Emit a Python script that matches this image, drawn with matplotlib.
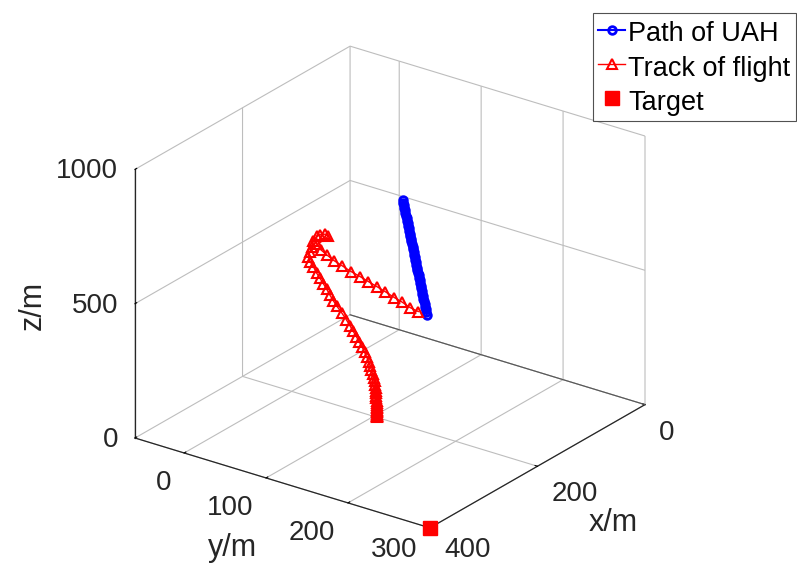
import numpy as np
import matplotlib
matplotlib.use('Agg')
import matplotlib.pyplot as plt
from mpl_toolkits.mplot3d import proj3d

plt.rcParams['font.family'] = ['Liberation Sans', 'DejaVu Sans']
plt.rcParams['grid.color'] = '#bdbdbd'
plt.rcParams['grid.linewidth'] = 0.8

# path of the UAH (m)
uah_x = [200, 200, 200, 200, 200, 200, 200, 200, 200, 200,
         200, 200, 200, 200, 200, 200, 200, 200, 200, 200,
         200, 200, 200, 200, 200, 200, 200, 200, 200, 200,
         200, 200, 200, 200, 200, 200, 200, 200, 200, 200,
         200, 200, 200, 200, 200]
uah_y = [135.5, 136.2, 136.8, 137.5, 138.2, 138.8, 139.5, 140.2, 140.8, 141.5,
         142.2, 142.8, 143.5, 144.2, 144.8, 145.5, 146.2, 146.8, 147.5, 148.2,
         148.8, 149.5, 150.2, 150.8, 151.5, 152.2, 152.8, 153.5, 154.2, 154.8,
         155.5, 156.2, 156.8, 157.5, 158.2, 158.8, 159.5, 160.2, 160.8, 161.5,
         162.2, 162.8, 163.5, 164.2, 164.8]
uah_z = [838, 829, 820, 811, 802, 793, 784, 775, 766, 757,
         748, 739, 730, 721, 712, 703, 694, 685, 676, 667,
         657, 648, 639, 630, 621, 612, 603, 594, 585, 576,
         567, 558, 549, 540, 531, 521, 512, 503, 494, 485,
         476, 467, 458, 448, 439]

# track of flight (m)
track_x = [200, 200, 200, 200, 200, 200, 200, 200, 200, 200,
           200, 200, 200, 200, 200, 200, 200, 200, 200, 200,
           200, 200, 200, 200, 200, 200, 200, 200, 200, 200,
           200, 200, 200, 200, 200, 200, 200, 200, 200, 200,
           200, 200, 200, 200, 200, 200, 200, 200, 200, 200,
           200, 200, 200, 200, 200, 200, 200, 200, 200, 200,
           200, 200, 200, 200, 200]
track_y = [103.8, 103.8, 103.8, 103.8, 103.8, 103.8, 103.8, 103.8, 103.8, 103.8,
           103.7, 103.7, 103.6, 103.5, 103.4, 103.2, 102.9, 102.5, 102.0, 101.1,
           99.9, 98.7, 97.3, 95.7, 93.9, 91.6, 89.0, 86.2, 82.7, 79.0,
           75.0, 71.0, 66.6, 61.1, 55.0, 50.8, 46.8, 42.8, 38.6, 34.6,
           30.6, 26.4, 22.4, 20.3, 22.4, 24.5, 26.4, 30.6, 34.6, 40.7,
           44.7, 31.5, 35.2, 42.8, 52.0, 61.1, 72.4, 83.4, 93.5, 103.8,
           113.9, 125.3, 135.0, 144.4, 154.5]
track_z = [0, 3, 6, 10, 14, 18, 23, 28, 34, 40,
           47, 54, 62, 70, 79, 88, 98, 109, 120, 132,
           144, 157, 170, 184, 198, 213, 228, 244, 260, 277,
           294, 311, 329, 349, 369, 385, 401, 420, 437, 453,
           468.1, 489.2, 504.1, 520.8, 541.4, 562.0, 582.5, 605.0, 615.1, 623.0,
           618.2, 576.0, 560.8, 548.1, 534.4, 525.3, 513.4, 505.0, 495.8, 486.7,
           477.5, 465.7, 457.3, 446.3, 440.8]

target = (400, 300, 0)

xlim = (0, 400)
ylim = (-60, 300)
zlim = (0, 1000)
xticks = [0, 200, 400]
yticks = [0, 100, 200, 300]
zticks = [0, 500, 1000]

W, H = 797, 566
fig = plt.figure(figsize=(W / 100, H / 100), dpi=100)
ax = fig.add_axes([0.1, 0.1, 0.8, 0.8], projection='3d')
ax.set_proj_type('ortho')
ax.view_init(elev=24.7, azim=36.1)
ax.set_box_aspect((1, 1, 0.81))

ax.plot(uah_x, uah_y, uah_z, '-o', color='blue', lw=1.5, ms=5.5,
        mfc='none', mew=2.0, label='Path of UAH')
ax.plot(track_x, track_y, track_z, '-^', color='red', lw=1.0, ms=6.5,
        mfc='none', mew=1.5, label='Track of flight')
ax.plot([target[0]], [target[1]], [target[2]], 's', color='red', ms=10.5,
        label='Target')

# darker back floor edge
ax.plot([xlim[0], xlim[0]], [ylim[0], ylim[1]], [zlim[0], zlim[0]],
        color='#555555', lw=0.8)

ax.set_xlim(*xlim)
ax.set_ylim(*ylim)
ax.set_zlim(*zlim)
ax.set_xticks(xticks)
ax.set_yticks(yticks)
ax.set_zticks(zticks)
ax.set_xticklabels([])
ax.set_yticklabels([])
ax.set_zticklabels([])

for axis in (ax.xaxis, ax.yaxis, ax.zaxis):
    axis.set_pane_color((1, 1, 1, 0))
    axis.pane.set_edgecolor('#b0b0b0')
    axis.line.set_color('#262626')
    axis.line.set_linewidth(0.9)
    axis._axinfo['tick']['inward_factor'] = 0.0
    axis._axinfo['tick']['outward_factor'] = 0.1
    axis._axinfo['tick']['color'] = '#888888'

fig.text(33 / W, 1 - 305 / H, 'z/m', fontsize=22, rotation=90,
         ha='center', va='center', color='#262626')
fig.text(232 / W, 1 - 548 / H, 'y/m', fontsize=22,
         ha='center', va='center', color='#262626')
fig.text(613 / W, 1 - 523 / H, 'x/m', fontsize=22,
         ha='center', va='center', color='#262626')

leg = fig.legend(loc='upper right', bbox_to_anchor=(796 / W, 1 - 13 / H),
                 fontsize=19.5, frameon=True, fancybox=False, edgecolor='#262626',
                 handlelength=1.0, handletextpad=0.12, borderpad=0.2,
                 handleheight=1.2, labelspacing=0.19, borderaxespad=0)
leg.get_frame().set_linewidth(0.8)

# fit the box corners onto the reference layout
fig.canvas.draw()


def to_px(x, y, z):
    px, py, _ = proj3d.proj_transform(x, y, z, ax.M)
    return ax.transData.transform((px, py))


pa = to_px(xlim[1], ylim[0], zlim[0])
pc = to_px(xlim[0], ylim[1], zlim[0])
r = 510 / (pc[0] - pa[0])
bb = ax.get_position(original=False)
x0, y0 = bb.x0 * W, bb.y0 * H
side = bb.width * W * r
nx0 = 135 - r * (pa[0] - x0)
ny0 = (H - 438) - r * (pa[1] - y0)
ax.set_position([nx0 / W, ny0 / H, side / W, side / H])
fig.canvas.draw()

# tick labels placed at the projected tick positions
tick_kw = dict(fontsize=20, color='#262626', va='center')
for zt in zticks:
    px, py = to_px(xlim[1], ylim[0], zt)
    fig.text((px - 17) / W, (py - 2) / H, str(zt), ha='right', **tick_kw)
for yt in yticks:
    px, py = to_px(xlim[1], yt, zlim[0])
    fig.text((px - 13) / W, max(py - 30, 16) / H, str(yt), ha='right', **tick_kw)
for xt in xticks:
    px, py = to_px(xt, ylim[1], zlim[0])
    fig.text((px + 14) / W, max(py - 28, 16) / H, str(xt), ha='left', **tick_kw)

fig.savefig('out.png', dpi=100)
